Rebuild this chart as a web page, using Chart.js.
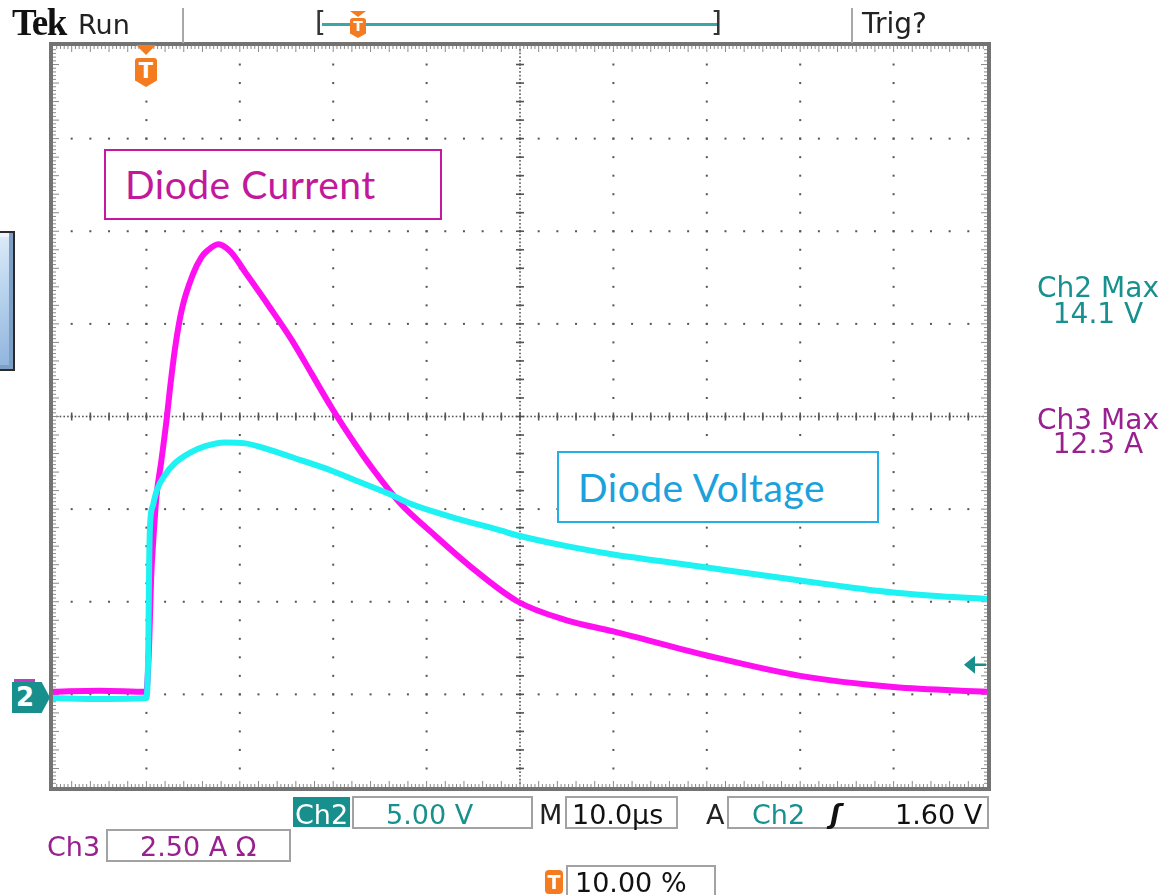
<!DOCTYPE html>
<html>
<head>
<meta charset="utf-8">
<title>Diode current and voltage</title>
<script src="https://cdn.jsdelivr.net/npm/chart.js@4"></script>
<style>
  body { margin: 0; background: #fff; }
  #wrap { position: relative; width: 1166px; height: 895px; overflow: hidden; font-family: "DejaVu Sans", sans-serif; }
  #scope { position: absolute; left: 0; top: 0; }
  .lbl { position: absolute; white-space: nowrap; line-height: 1; font-size: 27px; }
  .box { position: absolute; box-sizing: border-box; border: 2px solid #a2a2a2; }
  .sep { position: absolute; width: 2px; background: #a8a8a8; }
  .teal { color: #17918f; }
  .purple { color: #98208f; }
  .shield { position: absolute; background: #f47b20; color: #fff; font-weight: bold; text-align: center;
            clip-path: polygon(0 0, 100% 0, 100% 78%, 50% 100%, 0 78%); border-radius: 3px 3px 0 0; }
  .tri { position: absolute; width: 0; height: 0; border-left: 10px solid transparent; border-right: 10px solid transparent; border-top: 10px solid #f47b20; }
  .note { position: absolute; box-sizing: border-box; background: #fff; font-family: Lato, "Open Sans", sans-serif; font-size: 39px; letter-spacing: 0.5px; line-height: 1; white-space: nowrap; }
</style>
</head>
<body>
<div id="wrap">
  <canvas id="scope" width="1166" height="895"></canvas>

  <!-- top status bar -->
  <div class="lbl" style="left:12px; top:4px; font-family:'Liberation Serif',serif; font-weight:bold; font-size:37px; letter-spacing:-1.5px; color:#111;">Tek</div>
  <div class="lbl" style="left:78px; top:11px; color:#222;">Run</div>
  <div class="sep" style="left:182px; top:8px; height:35px;"></div>
  <div class="lbl" style="left:315px; top:9px; font-size:28px; color:#333;">[</div>
  <div style="position:absolute; left:322px; top:23px; width:395px; height:3px; background:#3aa7a5;"></div>
  <div class="lbl" style="left:711px; top:9px; font-size:28px; color:#333;">]</div>
  <div class="tri" style="left:350px; top:11px; border-left-width:8px; border-right-width:8px; border-top-width:6px;"></div>
  <div class="shield" style="left:350px; top:18px; width:16px; height:20px; font-size:14px; line-height:17px;">T</div>
  <div class="sep" style="left:851px; top:8px; height:35px;"></div>
  <div class="lbl" style="left:862px; top:10px; font-size:28px; color:#222;">Trig?</div>

  <!-- trigger position marker -->
  <div class="tri" style="left:136px; top:45px;"></div>
  <div class="shield" style="left:135px; top:58px; width:22px; height:29px; font-size:21px; line-height:26px;">T</div>

  <!-- left side decoration -->
  <div style="position:absolute; left:-30px; top:231px; width:45px; height:140px; box-sizing:border-box; border:2px solid #2b2b2b;
              background:linear-gradient(160deg,#e4f0fb 0%,#b9d4ee 45%,#8fb3dc 100%); box-shadow: inset -4px -4px 0 #7d9fc6, inset 4px 4px 0 #eef6fd;"></div>

  <!-- ground marker ch2 -->
  <div style="position:absolute; left:14px; top:679px; width:21px; height:3px; background:#c03cc0;"></div>
  <div class="shield" style="left:12px; top:682px; width:38px; height:31px; background:#168f8d; font-size:26px; line-height:31px; text-align:left; padding-left:4px; box-sizing:border-box;
       clip-path: polygon(0 0, 78% 0, 100% 50%, 78% 100%, 0 100%); border-radius:0;">2</div>

  <!-- right readouts -->
  <div class="lbl teal" style="left:1030px; width:136px; text-align:center; top:274px; font-size:28px;">Ch2 Max</div>
  <div class="lbl teal" style="left:1030px; width:136px; text-align:center; top:300px; font-size:28px;">14.1 V</div>
  <div class="lbl purple" style="left:1030px; width:136px; text-align:center; top:406px; font-size:28px;">Ch3 Max</div>
  <div class="lbl purple" style="left:1030px; width:136px; text-align:center; top:430px; font-size:28px;">12.3 A</div>

  <!-- bottom readouts row 1 -->
  <div style="position:absolute; left:293px; top:797px; width:57px; height:30px; background:#168f8d;"></div>
  <div class="lbl" style="left:295px; top:801px; color:#fff;">Ch2</div>
  <div class="box" style="left:352px; top:796px; width:181px; height:33px;"></div>
  <div class="lbl teal" style="left:386px; top:801px;">5.00 V</div>
  <div class="lbl" style="left:539px; top:801px; color:#222;">M</div>
  <div class="box" style="left:565px; top:796px; width:113px; height:33px;"></div>
  <div class="lbl" style="left:572px; top:801px; color:#111;">10.0µs</div>
  <div class="lbl" style="left:706px; top:801px; color:#222;">A</div>
  <div class="box" style="left:727px; top:796px; width:262px; height:33px;"></div>
  <div class="lbl teal" style="left:752px; top:801px;">Ch2</div>
  <div class="lbl" style="left:830px; top:800px; font-weight:bold; font-style:italic; color:#111;">ʃ</div>
  <div class="lbl" style="left:895px; top:801px; color:#111;">1.60 V</div>

  <!-- row 2 -->
  <div class="lbl purple" style="left:47px; top:833px;">Ch3</div>
  <div class="box" style="left:106px; top:829px; width:185px; height:33px;"></div>
  <div class="lbl purple" style="left:140px; top:833px;">2.50 A Ω</div>

  <!-- row 3 -->
  <div class="shield" style="left:545px; top:870px; width:18px; height:24px; font-size:19px; line-height:24px; clip-path:none; border-radius:4px;">T</div>
  <div class="box" style="left:566px; top:865px; width:150px; height:34px;"></div>
  <div class="lbl" style="left:575px; top:869px; color:#111;">10.00 %</div>

  <!-- annotations -->
  <div class="note" style="left:104px; top:149px; width:338px; height:71px; border:2px solid #c8179f; color:#c2189b; padding:14px 0 0 19px;">Diode Current</div>
  <div class="note" style="left:557px; top:451px; width:322px; height:72px; border:2px solid #22aee6; color:#1ba1dc; padding:15px 0 0 19px;">Diode Voltage</div>
</div>

<script>
// time base: 10 us/div, trigger at 10 % of record (t = 0 one division in)
// Ch2, diode voltage (V), 5 V/div
const timeCh2 = [-10, -5, 0, 0.2, 0.3, 0.4, 0.7, 1.1, 2.0, 3.1, 4.7, 6.3, 8.4, 10.6, 13.2, 16.5, 19.7, 22.9, 26.1, 28.2, 32.5, 37.9, 40, 45, 50, 55, 60, 65, 70, 75, 80, 85, 90];
const ch2Volts = [-0.2, -0.25, -0.2, 2.4, 7.2, 9.2, 10.2, 11.0, 11.85, 12.5, 13.05, 13.4, 13.6, 13.55, 13.2, 12.65, 12.1, 11.45, 10.8, 10.3, 9.6, 8.85, 8.55, 8.0, 7.55, 7.2, 6.85, 6.5, 6.15, 5.8, 5.5, 5.3, 5.15];
// Ch3, diode current (A), 2.5 A/div
const timeCh3 = [-10, -5, 0, 0.1, 0.3, 0.5, 0.8, 1.1, 1.6, 2.2, 2.5, 3.1, 3.8, 5.0, 5.9, 6.5, 7.7, 9.0, 10.7, 13.2, 15.6, 17.7, 19.8, 22.5, 23.9, 27.2, 30.4, 34.7, 39.8, 45, 50, 60, 70, 80, 90];
const ch3Amps = [0.07, 0.1, 0.07, 0.3, 1.4, 3.1, 4.4, 5.4, 6.3, 7.5, 8.2, 9.4, 10.4, 11.35, 11.8, 11.97, 12.15, 11.95, 11.35, 10.45, 9.55, 8.65, 7.75, 6.7, 6.2, 5.15, 4.4, 3.45, 2.5, 2.0, 1.7, 1.05, 0.5, 0.2, 0.07];
const trigLevelVolts = 1.6;

const voltPoints = timeCh2.map((t, i) => ({ x: t, y: ch2Volts[i] }));
const ampPoints = timeCh3.map((t, i) => ({ x: t, y: ch3Amps[i] }));

// graticule: 10 x 8 divisions, dotted, with dense centre lines and a ruler frame
const graticule = {
    id: 'graticule',
    beforeDatasetsDraw(chart) {
        const ctx = chart.ctx;
        const a = chart.chartArea;
        const dx = (a.right - a.left) / 10;
        const dy = (a.bottom - a.top) / 8;
        ctx.save();
        ctx.fillStyle = '#555';
        for (let i = 1; i < 10; i++) {
            const x = a.left + i * dx;
            for (let j = 1; j < 40; j++) ctx.fillRect(x - 1, a.top + j * dy / 5 - 1, 2, 2);
        }
        for (let k = 1; k < 8; k++) {
            const y = a.top + k * dy;
            for (let j = 1; j < 50; j++) ctx.fillRect(a.left + j * dx / 5 - 1, y - 1, 2, 2);
        }
        const cx = a.left + 5 * dx, cy = a.top + 4 * dy;
        for (let j = 1; j < 200; j++) ctx.fillRect(cx - 0.8, a.top + j * dy / 25 - 0.8, 1.6, 1.6);
        for (let j = 1; j < 250; j++) ctx.fillRect(a.left + j * dx / 25 - 0.8, cy - 0.8, 1.6, 1.6);
        for (let j = 1; j < 40; j++) ctx.fillRect(cx - 4, a.top + j * dy / 5 - 0.8, 8, 1.6);
        for (let j = 1; j < 50; j++) ctx.fillRect(a.left + j * dx / 5 - 0.8, cy - 4, 1.6, 8);

        // ruler ticks on the frame
        ctx.fillStyle = '#8a8a8a';
        for (let j = 1; j < 250; j++) {
            const x = a.left + j * dx / 25;
            const len = j % 5 === 0 ? 6 : 3;
            ctx.fillRect(x - 0.5, a.top, 1, len);
            ctx.fillRect(x - 0.5, a.bottom - len, 1, len);
        }
        for (let j = 1; j < 200; j++) {
            const y = a.top + j * dy / 25;
            const len = j % 5 === 0 ? 6 : 3;
            ctx.fillRect(a.left, y - 0.5, len, 1);
            ctx.fillRect(a.right - len, y - 0.5, len, 1);
        }
        ctx.strokeStyle = '#737373';
        ctx.lineWidth = 4;
        ctx.strokeRect(a.left - 2, a.top - 2, a.right - a.left + 4, a.bottom - a.top + 4);
        ctx.restore();
    },
    afterDatasetsDraw(chart) {
        // trigger level arrow on the right edge
        const ctx = chart.ctx;
        const a = chart.chartArea;
        const y = chart.scales.yV.getPixelForValue(trigLevelVolts);
        ctx.save();
        ctx.strokeStyle = '#168f8d';
        ctx.fillStyle = '#168f8d';
        ctx.lineWidth = 2.5;
        ctx.beginPath();
        ctx.moveTo(a.right - 1, y);
        ctx.lineTo(a.right - 16, y);
        ctx.stroke();
        ctx.beginPath();
        ctx.moveTo(a.right - 23, y);
        ctx.lineTo(a.right - 12, y - 9);
        ctx.lineTo(a.right - 12, y + 9);
        ctx.closePath();
        ctx.fill();
        ctx.restore();
    }
};

new Chart(document.getElementById('scope'), {
    type: 'line',
    data: {
        datasets: [{
            label: 'Diode Voltage (Ch2)',
            data: voltPoints,
            yAxisID: 'yV',
            borderColor: '#1ff2f2',
            borderWidth: 6,
            pointRadius: 0,
            cubicInterpolationMode: 'monotone',
            order: 0
        }, {
            label: 'Diode Current (Ch3)',
            data: ampPoints,
            yAxisID: 'yA',
            borderColor: '#ff10f0',
            borderWidth: 6,
            pointRadius: 0,
            cubicInterpolationMode: 'monotone',
            order: 1
        }]
    },
    options: {
        responsive: false,
        animation: false,
        layout: { padding: { left: 53, right: 179, top: 46, bottom: 108 } },
        plugins: { legend: { display: false }, tooltip: { enabled: false } },
        scales: {
            x: { type: 'linear', min: -10, max: 90, display: false },
            yV: { type: 'linear', min: -5, max: 35, display: false },
            yA: { type: 'linear', min: -2.5, max: 17.5, display: false }
        }
    },
    plugins: [graticule]
});
</script>
</body>
</html>
